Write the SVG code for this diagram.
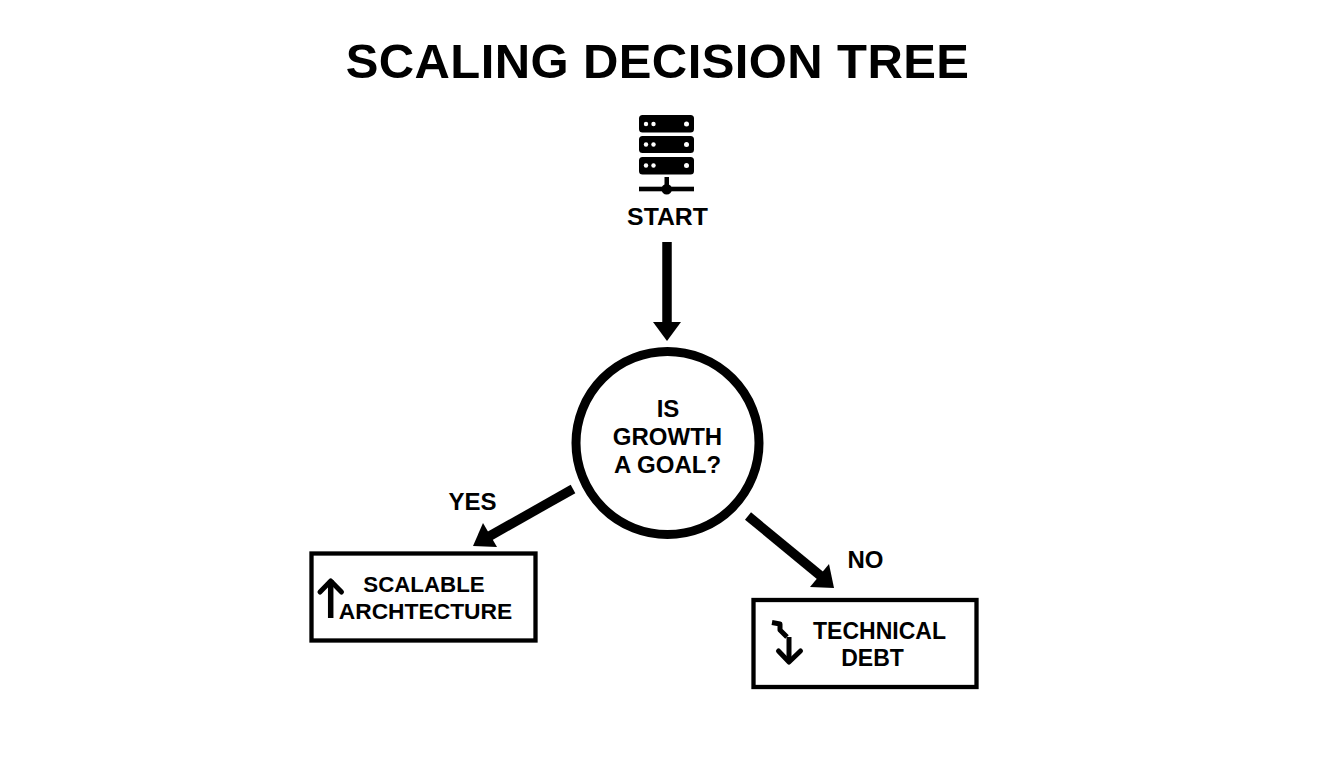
<svg xmlns="http://www.w3.org/2000/svg" width="1344" height="768" viewBox="0 0 1344 768">
<style>
text{font-family:"Liberation Sans",Arial,sans-serif;font-weight:700;fill:#000;text-anchor:middle}
.l{font-size:24px}
.s{font-size:23px}
.box{fill:#fff;stroke:#000;stroke-width:4.300}
.conn{fill:none;stroke:#000;stroke-width:9.500}
.head{fill:#000;stroke:none}
.ic{fill:none;stroke:#000;stroke-linejoin:round}
.rack{fill:#000}
.dot{fill:#fff}
</style>
<rect width="1344" height="768" fill="#fff"/>
<text id="title" x="657.500" y="77.500" font-size="49" letter-spacing="0.400">SCALING DECISION TREE</text>
<g id="start">
<rect class="rack" x="639" y="115" width="55" height="17.500" rx="3.500"/>
<rect class="rack" x="639" y="136" width="55" height="17" rx="3.500"/>
<rect class="rack" x="639" y="157" width="55" height="17.500" rx="3.500"/>
<g class="dot">
<circle cx="646" cy="124" r="2.200"/><circle cx="653.500" cy="124" r="2.200"/><circle cx="686.500" cy="124" r="2.500"/>
<circle cx="646" cy="144.500" r="2.200"/><circle cx="653.500" cy="144.500" r="2.200"/><circle cx="686.500" cy="144.500" r="2.500"/>
<circle cx="646" cy="165.500" r="2.200"/><circle cx="653.500" cy="165.500" r="2.200"/><circle cx="686.500" cy="165.500" r="2.500"/>
</g>
<rect class="rack" x="664.500" y="177" width="4.500" height="12"/>
<rect class="rack" x="639" y="186.700" width="55" height="4.600"/>
<circle class="rack" cx="666.700" cy="189.300" r="5.300"/>
<text class="l" x="667.500" y="225" style="font-size:24.800px">START</text>
</g>
<g id="connectors">
<path class="conn" d="M667 242V324"/>
<polygon class="head" points="653,322 681,322 667,341"/>
<path class="conn" d="M573 489L488 537"/>
<polygon class="head" points="483,523 497,547 473,546"/>
<path class="conn" d="M748 516L822 577"/>
<polygon class="head" points="829,564 834,588 810,587"/>
</g>
<g id="decision">
<circle cx="667.500" cy="443" r="91.500" fill="#fff" stroke="#000" stroke-width="9"/>
<text class="l" x="668" y="417">IS</text>
<text class="l" x="667.500" y="445">GROWTH</text>
<text class="l" x="667.500" y="473">A GOAL?</text>
</g>
<text id="yes" class="l" x="472.500" y="510">YES</text>
<text id="no" class="l" x="865.500" y="568">NO</text>
<g id="scalable">
<rect class="box" x="311.500" y="553.500" width="224" height="87"/>
<path class="ic" stroke-width="5.500" d="M330.700 618V580"/>
<path class="ic" stroke-width="5" stroke-linecap="round" d="M320 592L330.700 581L341.500 592"/>
<text class="s" x="424" y="592" style="font-size:22.300px">SCALABLE</text>
<text class="s" x="425.500" y="618.500" style="font-size:22.800px">ARCHTECTURE</text>
</g>
<g id="debt">
<rect class="box" x="753.500" y="600" width="223" height="87"/>
<path class="ic" stroke-width="5" d="M772 622.500L780 624L780 630L787 637"/>
<path class="ic" stroke-width="5" d="M789 637V662"/>
<path class="ic" stroke-width="5" stroke-linecap="round" d="M778.500 651L789 662L800.500 651"/>
<text class="s" x="879.500" y="639">TECHNICAL</text>
<text class="s" x="872.500" y="666">DEBT</text>
</g>
</svg>
